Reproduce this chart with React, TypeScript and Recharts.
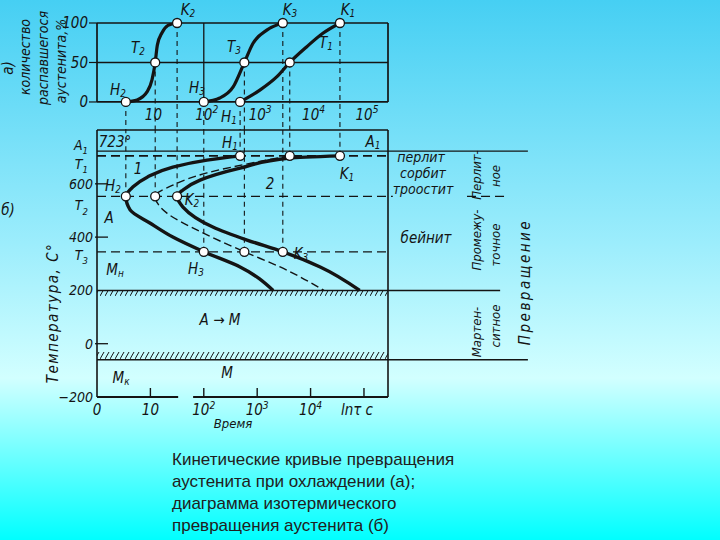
import React from 'react'
import {
  LineChart,
  ComposedChart,
  Line,
  XAxis,
  YAxis,
  ReferenceLine,
  ReferenceDot,
  ReferenceArea,
} from 'recharts'

const INK = '#141414'
const FONT = "'DejaVu Sans Condensed', 'Liberation Sans Narrow', 'DejaVu Sans', sans-serif"

// time axis in lg τ: 0 = start, 1 = 10 s, 2 = 10² s ...
const timeDomain = [0, 5.45]
const timeTicks = [0, 1, 2, 3, 4, 5]
const timeTickLabels = ['0', '10', '10^2', '10^3', '10^4', 'lnτ c']
const topTimeTicks = [1, 2, 3, 4, 5]
const topTimeLabels = ['10', '10^2', '10^3', '10^4', '10^5']

// a) amount of decomposed austenite, %
const pctDomain = [-35.5, 100]
const pctTicks = [0, 50, 100]

// б) temperature, °C
const tempDomain = [-200, 802]
const tempTickValues = [-200, 0, 200, 345, 400, 553, 600, 705, 723]
const tempTickLabels = ['−200', '0', '200', 'T_3', '400', 'T_2', '600', 'T_1', 'A_1']

const A1 = 723
const Mn = 200
const Mk = -60
const isoTemps = [705, 553, 345] // T1, T2, T3
const startLog = [2.68, 0.54, 2.0] // H1, H2, H3
const halfLog = [3.61, 1.09, 2.76] // 50 %
const endLog = [4.55, 1.5, 3.48] // K1, K2, K3

// kinetic curves (a)
const kineticT1 = [
  { u: 2.68, p: 0 }, { u: 3.05, p: 15 }, { u: 3.37, p: 32 }, { u: 3.61, p: 50 },
  { u: 3.93, p: 70 }, { u: 4.23, p: 87 }, { u: 4.55, p: 100 },
]
const kineticT2 = [
  { u: 0.54, p: 0 }, { u: 0.75, p: 2.5 }, { u: 0.94, p: 13 }, { u: 1.03, p: 28 },
  { u: 1.09, p: 50 }, { u: 1.13, p: 72 }, { u: 1.22, p: 88 }, { u: 1.33, p: 97 }, { u: 1.5, p: 100 },
]
const kineticT3 = [
  { u: 2.0, p: 0 }, { u: 2.3, p: 5 }, { u: 2.55, p: 19 }, { u: 2.76, p: 50 },
  { u: 2.92, p: 74 }, { u: 3.18, p: 91 }, { u: 3.48, p: 100 },
]

// isothermal diagram (б): start, 50 % and end of transformation
const startCurve = [
  { t: 705, u: 2.68 }, { t: 689, u: 2.06 }, { t: 663, u: 1.42 }, { t: 625, u: 0.94 },
  { t: 588, u: 0.67 }, { t: 553, u: 0.54 }, { t: 502, u: 0.62 }, { t: 453, u: 0.99 },
  { t: 400, u: 1.42 }, { t: 345, u: 2.0 }, { t: 288, u: 2.68 }, { t: 200, u: 3.3 },
]
const halfCurve = [
  { t: 705, u: 3.61 }, { t: 682, u: 3.0 }, { t: 641, u: 2.06 }, { t: 595, u: 1.42 },
  { t: 553, u: 1.09 }, { t: 490, u: 1.31 }, { t: 427, u: 1.87 }, { t: 345, u: 2.76 },
  { t: 288, u: 3.43 }, { t: 200, u: 4.25 },
]
const endCurve = [
  { t: 705, u: 4.55 }, { t: 697, u: 3.61 }, { t: 659, u: 2.68 }, { t: 614, u: 1.93 },
  { t: 577, u: 1.61 }, { t: 553, u: 1.5 }, { t: 513, u: 1.61 }, { t: 438, u: 2.17 },
  { t: 389, u: 2.81 }, { t: 345, u: 3.48 }, { t: 288, u: 4.18 }, { t: 200, u: 4.92 },
]

// how far some lines run past the right frame (time units)
const extA1 = 8.07
const extMn = 7.55
const extMk = 8.07
const t2Pieces = [[0, 5.54], [6.93, 7.68]]
const axisPieces = [[0, 1.52], [1.8, timeDomain[1]]]
const hatchDepth = 26

function parse(t: string) {
  const m = t.match(/^(.*?)([_^])(.*)$/)
  return m ? { base: m[1], kind: m[2], script: m[3] } : { base: t, kind: '', script: '' }
}

function RichSvg({ x, y, text, size = 14, anchor = 'middle' }: any) {
  const { base, kind, script } = parse(text)
  const style = { fontFamily: FONT, fontStyle: 'italic', fontSize: size, fill: INK }
  return (
    <text x={x} y={y} textAnchor={anchor} style={style}>
      {base}
      {kind && (
        <tspan dy={kind === '^' ? -size * 0.42 : size * 0.3} fontSize={size * 0.68}>
          {script}
        </tspan>
      )}
    </text>
  )
}

function Rich({ t }: { t: string }) {
  const { base, kind, script } = parse(t)
  const s = { fontSize: '0.66em', verticalAlign: kind === '^' ? '0.5em' : '-0.3em', lineHeight: 0 }
  return (
    <>
      {base}
      {kind && <span style={s}>{script}</span>}
    </>
  )
}

function Note({ x, y, t, size = 15, rotate = 0, spacing = 0, italic = true, font = FONT }: any) {
  return (
    <div
      style={{
        position: 'absolute',
        left: x,
        top: y,
        transform: `translate(-50%, -50%) rotate(${rotate}deg)`,
        fontFamily: font,
        fontStyle: italic ? 'italic' : 'normal',
        fontSize: size,
        letterSpacing: spacing,
        lineHeight: 1,
        whiteSpace: 'nowrap',
        color: INK,
      }}
    >
      <Rich t={t} />
    </div>
  )
}

const TempTick = (props: any) => {
  const { x, y, payload } = props
  const label = tempTickLabels[tempTickValues.indexOf(payload.value)] ?? ''
  const isNum = /^[−-]?\d+$/.test(label)
  const shift = label === 'A_1' ? -6 : label === 'T_1' ? 8 : label === 'T_2' ? 9 : label === 'T_3' ? 3 : 0
  const showTick = label === '600' || label === '400' || label === '0'
  return (
    <g>
      {showTick && <line x1={x + 2} x2={x + 15} y1={y} y2={y} stroke={INK} strokeWidth={1.3} />}
      <RichSvg x={isNum ? x : x - 5} y={y + 5 + shift} text={label} anchor="end" size={14} />
    </g>
  )
}

const TimeTick = (props: any) => {
  const { x, y, payload } = props
  const label = timeTickLabels[timeTicks.indexOf(payload.value)] ?? ''
  return (
    <g>
      {payload.value > 0 && <line x1={x} x2={x} y1={y - 4} y2={y - 13} stroke={INK} strokeWidth={1.4} />}
      <RichSvg x={label.length > 4 ? x - 7 : x} y={y + 14} text={label} size={15} />
    </g>
  )
}

const dotLabel = (text: string) => (props: any) => {
  const vb = props.viewBox || {}
  return <RichSvg x={(vb.x ?? 0) + (vb.width ?? 0) / 2 + 3} y={(vb.y ?? 0) + (vb.height ?? 0) / 2 + 5} text={text} size={15} />
}

const dash = '5 4'

export default function App() {
  const marks = [startLog, halfLog, endLog]
  const levels = [0, 50, 100]

  return (
    <div
      style={{
        position: 'absolute',
        left: 0,
        top: 0,
        width: 720,
        height: 540,
        overflow: 'hidden',
        background: 'linear-gradient(to bottom, #46cff3 0%, #9cedfc 45%, #d2ffff 70%, #00ffff 100%)',
      }}
    >
      <svg width={0} height={0} style={{ position: 'absolute' }}>
        <defs>
          <pattern id="hatch" patternUnits="userSpaceOnUse" width={5} height={9}>
            <line x1={0} y1={8} x2={4} y2={1} stroke={INK} strokeWidth={1} />
          </pattern>
        </defs>
      </svg>

      {/* б) isothermal transformation diagram */}
      <div style={{ position: 'absolute', left: 0, top: 0 }}>
        <ComposedChart layout="vertical" width={720} height={440} margin={{ top: 130, right: 332, bottom: 13, left: 51 }}>
          <XAxis
            type="number"
            dataKey="u"
            domain={timeDomain}
            allowDataOverflow
            ticks={timeTicks}
            interval={0}
            axisLine={false}
            tickLine={false}
            tickSize={0}
            tickMargin={4}
            height={30}
            tick={<TimeTick />}
          />
          <YAxis
            type="number"
            dataKey="t"
            reversed
            domain={tempDomain}
            allowDataOverflow
            ticks={tempTickValues}
            interval={0}
            width={46}
            axisLine={{ stroke: INK, strokeWidth: 1.6 }}
            tickLine={false}
            tickSize={0}
            tickMargin={4}
            tick={<TempTick />}
          />

          <ReferenceArea x1={0} x2={timeDomain[1]} y1={Mn - hatchDepth} y2={Mn} fill="url(#hatch)" fillOpacity={1} stroke="none" />
          <ReferenceArea x1={0} x2={timeDomain[1]} y1={Mk} y2={Mk + hatchDepth + 8} fill="url(#hatch)" fillOpacity={1} stroke="none" />

          <ReferenceLine y={tempDomain[1]} stroke={INK} strokeWidth={1.6} />
          <ReferenceLine x={timeDomain[1]} stroke={INK} strokeWidth={1.6} />
          {axisPieces.map(([a, b], i) => (
            <ReferenceLine key={`ax${i}`} ifOverflow="visible" segment={[{ x: a, y: tempDomain[0] }, { x: b, y: tempDomain[0] }]} stroke={INK} strokeWidth={1.8} />
          ))}
          <ReferenceLine ifOverflow="visible" segment={[{ x: 0, y: A1 }, { x: extA1, y: A1 }]} stroke={INK} strokeWidth={1.3} />
          <ReferenceLine y={isoTemps[0]} stroke={INK} strokeWidth={1.6} strokeDasharray="9 5" />
          {t2Pieces.map(([a, b], i) => (
            <ReferenceLine key={`t2${i}`} ifOverflow="visible" segment={[{ x: a, y: isoTemps[1] }, { x: b, y: isoTemps[1] }]} stroke={INK} strokeWidth={1.2} strokeDasharray="9 5" />
          ))}
          <ReferenceLine y={isoTemps[2]} stroke={INK} strokeWidth={1.2} strokeDasharray="9 5" />
          <ReferenceLine ifOverflow="visible" segment={[{ x: 0, y: Mn }, { x: extMn, y: Mn }]} stroke={INK} strokeWidth={1.5} />
          <ReferenceLine ifOverflow="visible" segment={[{ x: 0, y: Mk }, { x: extMk, y: Mk }]} stroke={INK} strokeWidth={1.5} />

          {marks.map((arr, k) =>
            arr.map((u, i) => (
              <ReferenceLine
                key={`cb${k}${i}`}
                segment={[{ x: u, y: isoTemps[i] }, { x: u, y: tempDomain[1] }]}
                stroke={INK}
                strokeWidth={1.1}
                strokeDasharray={dash}
              />
            ))
          )}

          <Line data={startCurve} dataKey="u" type="monotone" stroke={INK} strokeWidth={3.4} dot={false} isAnimationActive={false} />
          <Line data={halfCurve} dataKey="u" type="monotone" stroke={INK} strokeWidth={1.4} strokeDasharray="8 4" dot={false} isAnimationActive={false} />
          <Line data={endCurve} dataKey="u" type="monotone" stroke={INK} strokeWidth={3.4} dot={false} isAnimationActive={false} />

          {marks.map((arr, k) =>
            arr.map((u, i) => (
              <ReferenceDot key={`db${k}${i}`} x={u} y={isoTemps[i]} r={4.5} fill="#ffffff" stroke={INK} strokeWidth={1.3} />
            ))
          )}
        </ComposedChart>
      </div>

      {/* а) kinetic curves */}
      <div style={{ position: 'absolute', left: 0, top: 0 }}>
        <LineChart width={720} height={131} margin={{ top: 23, right: 332, bottom: 1, left: 57 }}>
          <XAxis type="number" dataKey="u" domain={timeDomain} allowDataOverflow hide />
          <YAxis
            type="number"
            domain={pctDomain}
            allowDataOverflow
            ticks={pctTicks}
            interval={0}
            width={40}
            axisLine={false}
            tickLine={{ stroke: INK, strokeWidth: 1.2 }}
            tickSize={8}
            tickMargin={1}
            tick={{ fill: INK, fontSize: 15, fontStyle: 'italic', fontFamily: FONT }}
          />

          {levels.map((p) => (
            <ReferenceLine key={`h${p}`} y={p} stroke={INK} strokeWidth={p === 50 ? 1.3 : 1.7} />
          ))}
          {[0, 2, timeDomain[1]].map((u) => (
            <ReferenceLine key={`v${u}`} segment={[{ x: u, y: 0 }, { x: u, y: 100 }]} stroke={INK} strokeWidth={u === 2 ? 1.3 : 1.7} />
          ))}

          {marks.map((arr, k) =>
            arr.map((u, i) => (
              <ReferenceLine
                key={`ct${k}${i}`}
                segment={[{ x: u, y: levels[k] }, { x: u, y: pctDomain[0] }]}
                stroke={INK}
                strokeWidth={1.1}
                strokeDasharray={dash}
              />
            ))
          )}

          {topTimeTicks.map((u, i) => (
            <ReferenceDot key={`tl${u}`} x={u} y={-16} r={1} fill="none" stroke="none" label={dotLabel(topTimeLabels[i])} />
          ))}

          <Line data={kineticT1} dataKey="p" type="monotone" stroke={INK} strokeWidth={3.2} dot={false} isAnimationActive={false} />
          <Line data={kineticT2} dataKey="p" type="monotone" stroke={INK} strokeWidth={3.2} dot={false} isAnimationActive={false} />
          <Line data={kineticT3} dataKey="p" type="monotone" stroke={INK} strokeWidth={3.2} dot={false} isAnimationActive={false} />

          {marks.map((arr, k) =>
            arr.map((u, i) => (
              <ReferenceDot key={`dt${k}${i}`} x={u} y={levels[k]} r={4.5} fill="#ffffff" stroke={INK} strokeWidth={1.3} />
            ))
          )}
        </LineChart>
      </div>

      {/* labels of chart a) */}
      <Note x={8} y={68} t="а)" rotate={-90} />
      <Note x={25} y={57} t="количество" rotate={-90} size={14} />
      <Note x={43} y={58} t="распавшегося" rotate={-90} size={14} />
      <Note x={61} y={61} t="аустенита,%" rotate={-90} size={14} />
      <Note x={188} y={10} t="K_2" />
      <Note x={290} y={10} t="K_3" />
      <Note x={348} y={10} t="K_1" />
      <Note x={138} y={48} t="T_2" />
      <Note x={234} y={47} t="T_3" />
      <Note x={326} y={43} t="T_1" />
      <Note x={118} y={90} t="H_2" />
      <Note x={197} y={88} t="H_3" />
      <Note x={229} y={117} t="H_1" />

      {/* labels of chart б) */}
      <Note x={8} y={210} t="б)" />
      <Note x={53} y={313} t="Температура, С°" rotate={-90} spacing={1.5} />
      <Note x={115} y={142} t="723°" />
      <Note x={373} y={142} t="A_1" />
      <Note x={230} y={143} t="H_1" />
      <Note x={138} y={169} t="1" />
      <Note x={270} y={184} t="2" />
      <Note x={347} y={174} t="K_1" />
      <Note x={113} y={186} t="H_2" />
      <Note x={192} y={200} t="K_2" />
      <Note x={109} y={218} t="A" />
      <Note x={115} y={270} t="M_н" />
      <Note x={196} y={269} t="H_3" />
      <Note x={301} y={254} t="K_3" />
      <Note x={220} y={320} t="A → M" />
      <Note x={121} y={378} t="M_к" />
      <Note x={227} y={373} t="M" />
      <Note x={233} y={423} t="Время" size={13} />

      {/* transformation regions */}
      <Note x={421} y={157} t="перлит" size={14} />
      <Note x={423} y={173} t="сорбит" size={14} />
      <Note x={423} y={189} t="троостит" size={14} />
      <Note x={426} y={238} t="бейнит" />
      <Note x={476} y={175} t="Перлит-" rotate={-90} size={13} />
      <Note x={495} y={176} t="ное" rotate={-90} size={13} />
      <Note x={476} y={240} t="Промежу-" rotate={-90} size={13} />
      <Note x={495} y={245} t="точное" rotate={-90} size={13} />
      <Note x={476} y={332} t="Мартен-" rotate={-90} size={13} />
      <Note x={495} y={326} t="ситное" rotate={-90} size={13} />
      <Note x={525} y={282} t="Превращение" rotate={-90} spacing={2.5} />

      <div
        style={{
          position: 'absolute',
          left: 172,
          top: 449,
          fontFamily: "'Liberation Sans', Arial, sans-serif",
          fontSize: 17,
          lineHeight: '22px',
          color: '#202020',
        }}
      >
        Кинетические кривые превращения
        <br />
        аустенита при охлаждении (а);
        <br />
        диаграмма изотермического
        <br />
        превращения аустенита (б)
      </div>
    </div>
  )
}
